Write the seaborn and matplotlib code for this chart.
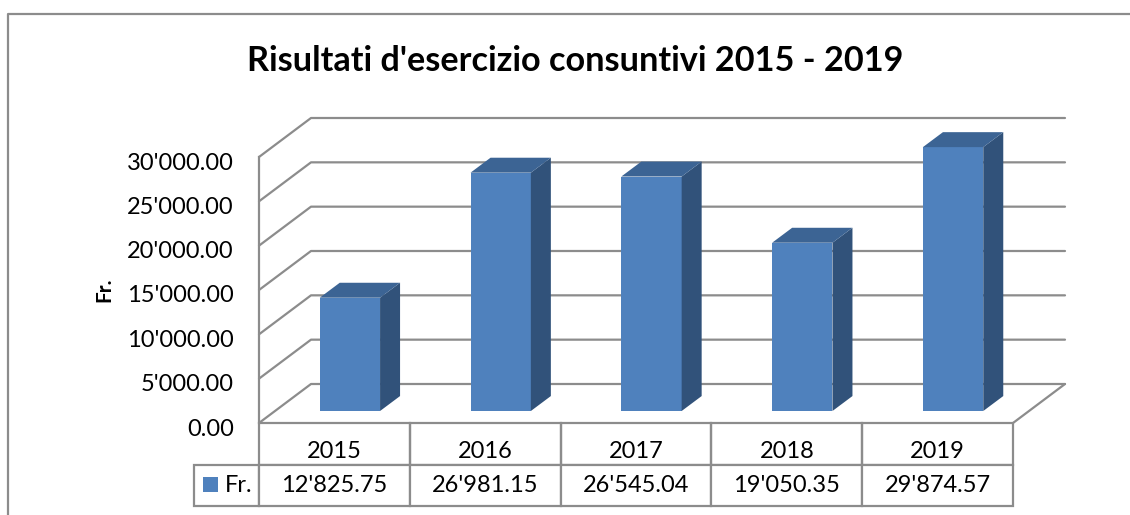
# %%
# Risultati d'esercizio consuntivi, barre finte 3D
import matplotlib.pyplot as plt
import seaborn as sns
from matplotlib.patches import Polygon, Rectangle
from matplotlib.ticker import FuncFormatter
from matplotlib.transforms import ScaledTranslation

anni = ['2015', '2016', '2017', '2018', '2019']
valori = [12825.75, 26981.15, 26545.04, 19050.35, 29874.57]
tick_valori = [0, 5000, 10000, 15000, 20000, 25000, 30000]
titolo = "Risultati d'esercizio consuntivi 2015 - 2019"
serie = 'Fr.'

W, H = 1130, 515
GRIGIO = '#8c8c8c'
BLU = '#4F81BD'
BLU_LATO = '#31527A'
BLU_TOP = '#3C6494'
FS = 17
LW = 1.6

sns.set_theme(style='white')
plt.rcParams['font.family'] = ['Lato', 'DejaVu Sans']
plt.rcParams['text.color'] = 'black'
plt.rcParams['axes.labelcolor'] = 'black'


def fr(v):
    return f"{v:,.2f}".replace(',', "'")


def box(x0, y0, x1, y1):
    # pixel dall'alto -> frazioni della figura
    return [x0 / W, 1 - y1 / H, (x1 - x0) / W, (y1 - y0) / H]


fig = plt.figure(figsize=(W / 100, H / 100), dpi=100)

# cornice del grafico (a destra e in basso è tagliata)
fig.add_artist(plt.Line2D([8 / W, 8 / W, 1], [0, 1 - 14 / H, 1 - 14 / H],
                          color=GRIGIO, lw=LW))

# %%
# Piano frontale: assi, griglia sulla parete di fondo
ax = fig.add_axes(box(259, 157, 1013, 423))
ax.patch.set_alpha(0)
ax.set_xlim(-0.5, 4.5)
ax.set_ylim(0, 30000)
ax.set_yticks(tick_valori)
ax.yaxis.set_major_formatter(FuncFormatter(lambda v, _: fr(v)))
ax.tick_params(axis='y', length=0, pad=18, labelsize=FS, colors='black')
ax.set_xticks(range(len(anni)), anni)
ax.tick_params(axis='x', length=0, pad=13, labelsize=FS, colors='black')
ax.set_ylabel(serie, fontsize=15, fontweight='bold', labelpad=9.5)
for lato in ['top', 'right', 'bottom']:
    ax.spines[lato].set_visible(False)
ax.spines['left'].set_color(GRIGIO)
ax.spines['left'].set_linewidth(LW)

# le etichette stanno un po' più in basso
giu = ScaledTranslation(0, -4 / 100, fig.dpi_scale_trans)
for lab in ax.get_yticklabels():
    lab.set_transform(lab.get_transform() + giu)

# profondità in unità dei dati
px_x = 5 / 754
px_y = 30000 / 266
prof_x, prof_y = 52 * px_x, 39 * px_y
for v in tick_valori:
    ax.plot([-0.5, -0.5 + prof_x, 4.5 + prof_x], [v, v + prof_y, v + prof_y],
            color=GRIGIO, lw=LW, clip_on=False, zorder=1)
ax.plot([4.5, 4.5 + prof_x], [0, prof_y], color=GRIGIO, lw=LW, clip_on=False, zorder=1)

# %%
# Barre, spostate dentro il pavimento
ax_bar = fig.add_axes(box(274.5, 146, 1028.5, 411))
ax_bar.patch.set_alpha(0)
sns.barplot(x=anni, y=valori, color=BLU, saturation=1, width=0.4, ax=ax_bar,
            edgecolor='none', linewidth=0)
ax_bar.set_xlim(-0.5, 4.5)
ax_bar.set_ylim(0, 30000)
ax_bar.axis('off')

bar_x, bar_y = 20 * px_x, 15 * px_y
for p in list(ax_bar.patches):
    x0, x1 = p.get_x(), p.get_x() + p.get_width()
    y1 = p.get_height()
    ax_bar.add_patch(Polygon([(x1, 0), (x1 + bar_x, bar_y), (x1 + bar_x, y1 + bar_y), (x1, y1)],
                             closed=True, fc=BLU_LATO, ec='none', clip_on=False))
    ax_bar.add_patch(Polygon([(x0, y1), (x0 + bar_x, y1 + bar_y), (x1 + bar_x, y1 + bar_y), (x1, y1)],
                             closed=True, fc=BLU_TOP, ec='none', clip_on=False))

# %%
# Tabella dati sotto il grafico (gli anni sono le etichette dell'asse x)
ax_tab = fig.add_axes(box(194, 423, 1013, 506))
ax_tab.axis('off')
ax_tab.set_xlim(194, 1013)
ax_tab.set_ylim(506, 423)
larg_serie = 65 / 819
tab = ax_tab.table(cellText=[[''] * 6, [''] + [fr(v) for v in valori]],
                   colWidths=[larg_serie] + [(1 - larg_serie) / 5] * 5,
                   cellLoc='center', bbox=[0, 0, 1, 1])
tab.auto_set_font_size(False)
tab.set_fontsize(FS)
for (r, c), cella in tab.get_celld().items():
    cella.set_edgecolor(GRIGIO)
    cella.set_linewidth(LW)
    cella.get_text().set_color('black')
    if r == 0:
        cella.set_facecolor('none')
    if r == 0 and c == 0:
        cella.visible_edges = 'open'

ax_tab.add_patch(Rectangle((203, 477), 15, 15, fc=BLU, ec='none', zorder=5))
ax_tab.text(225, 485, serie, fontsize=FS, va='center', ha='left', zorder=5)

fig.text(575 / W, 1 - 61 / H, titolo, fontsize=24.7, fontweight='bold', ha='center', va='center')

fig.savefig('out.png', dpi=100)
